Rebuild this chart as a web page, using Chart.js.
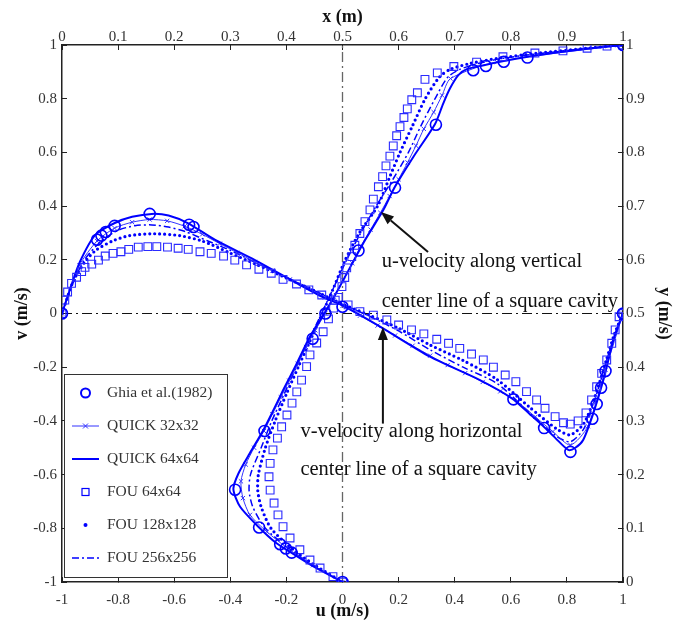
<!DOCTYPE html>
<html>
<head>
<meta charset="utf-8">
<script src="https://cdn.jsdelivr.net/npm/chart.js@4.4.0/dist/chart.umd.min.js"></script>
<style>
  html, body { margin: 0; padding: 0; background: #fff; }
  #chart-container { width: 674px; height: 625px; }
</style>
</head>
<body>
<div id="chart-container"><canvas id="chart1" width="674" height="625"></canvas></div>
<script>
// u-velocity along the vertical center line: y (m) -> u (m/s)
const ghiaUY = [0, 0.0547, 0.0625, 0.0703, 0.1016, 0.1719, 0.2813, 0.4531, 0.5, 0.6172, 0.7344, 0.8516, 0.9531, 0.9609, 0.9688, 0.9766, 1];
const ghiaU = [0, -0.18109, -0.20196, -0.2222, -0.2973, -0.38289, -0.27805, -0.10648, -0.0608, 0.05702, 0.18719, 0.33304, 0.46604, 0.51117, 0.57492, 0.65928, 1];

const uQuick32Y = [0, 0.03125, 0.0625, 0.09375, 0.125, 0.15625, 0.1875, 0.21875, 0.25, 0.28125, 0.3125, 0.34375, 0.375, 0.40625, 0.4375, 0.46875, 0.5, 0.53125, 0.5625, 0.59375, 0.625, 0.65625, 0.6875, 0.71875, 0.75, 0.78125, 0.8125, 0.84375, 0.875, 0.90625, 0.9375, 0.96875, 1];
const uQuick32 = [0, -0.105, -0.195, -0.27, -0.33, -0.355, -0.362, -0.345, -0.315, -0.28, -0.25, -0.22, -0.19, -0.16, -0.13, -0.097, -0.062, -0.03, 0.003, 0.035, 0.065, 0.1, 0.135, 0.168, 0.2, 0.232, 0.262, 0.29, 0.325, 0.355, 0.385, 0.55, 1];

const uQuick64Y = [0, 0.029, 0.056, 0.072, 0.103, 0.14, 0.173, 0.202, 0.24, 0.283, 0.314, 0.358, 0.407, 0.457, 0.5, 0.55, 0.631, 0.693, 0.736, 0.792, 0.853, 0.891, 0.919, 0.944, 0.955, 0.962, 0.97, 0.977, 0.985, 0.993, 1];
const uQuick64 = [0, -0.104, -0.187, -0.235, -0.3, -0.365, -0.389, -0.371, -0.33, -0.282, -0.252, -0.211, -0.163, -0.116, -0.065, -0.01, 0.074, 0.146, 0.187, 0.253, 0.33, 0.359, 0.383, 0.413, 0.443, 0.5, 0.575, 0.65, 0.75, 0.87, 1];

const uFou64Y = [0, 0.01, 0.026, 0.041, 0.06, 0.082, 0.103, 0.125, 0.147, 0.171, 0.196, 0.221, 0.246, 0.268, 0.289, 0.311, 0.333, 0.354, 0.376, 0.401, 0.423, 0.445, 0.466, 0.49, 0.51, 0.53, 0.55, 0.567, 0.585, 0.606, 0.627, 0.649, 0.671, 0.693, 0.713, 0.736, 0.755, 0.775, 0.793, 0.812, 0.831, 0.848, 0.865, 0.881, 0.898, 0.911, 0.936, 0.948, 0.96, 0.968, 0.978, 0.985, 0.989, 0.994, 0.998, 1];
const uFou64 = [0, -0.034, -0.08, -0.116, -0.152, -0.187, -0.212, -0.23, -0.244, -0.258, -0.262, -0.258, -0.248, -0.232, -0.217, -0.198, -0.18, -0.163, -0.146, -0.128, -0.116, -0.092, -0.069, -0.05, -0.032, -0.015, -0.002, 0.008, 0.015, 0.033, 0.044, 0.062, 0.08, 0.098, 0.11, 0.128, 0.143, 0.155, 0.169, 0.181, 0.193, 0.205, 0.219, 0.231, 0.247, 0.267, 0.294, 0.338, 0.397, 0.478, 0.572, 0.686, 0.786, 0.872, 0.943, 1];

const uFou128Y = [0, 0.03, 0.06, 0.1, 0.14, 0.17, 0.2, 0.25, 0.3, 0.35, 0.4, 0.45, 0.5, 0.55, 0.6, 0.65, 0.7, 0.75, 0.8, 0.85, 0.9, 0.94, 0.955, 0.965, 0.975, 0.985, 0.993, 1];
const uFou128 = [0, -0.095, -0.175, -0.255, -0.29, -0.302, -0.3, -0.275, -0.24, -0.2, -0.158, -0.115, -0.072, -0.03, 0.01, 0.06, 0.125, 0.165, 0.205, 0.25, 0.295, 0.345, 0.385, 0.45, 0.55, 0.7, 0.85, 1];

const uFou256Y = [0, 0.03, 0.06, 0.1, 0.14, 0.17, 0.2, 0.25, 0.3, 0.35, 0.4, 0.45, 0.5, 0.55, 0.6, 0.65, 0.7, 0.75, 0.8, 0.85, 0.9, 0.94, 0.955, 0.965, 0.975, 0.985, 0.993, 1];
const uFou256 = [0, -0.1, -0.185, -0.275, -0.32, -0.333, -0.328, -0.29, -0.252, -0.208, -0.165, -0.12, -0.075, -0.03, 0.015, 0.065, 0.12, 0.18, 0.235, 0.28, 0.33, 0.375, 0.42, 0.48, 0.57, 0.72, 0.86, 1];

// v-velocity along the horizontal center line: x (m) -> v (m/s)
const ghiaVX = [0, 0.0625, 0.0703, 0.0781, 0.0938, 0.1563, 0.2266, 0.2344, 0.5, 0.8047, 0.8594, 0.9063, 0.9453, 0.9531, 0.9609, 0.9688, 1];
const ghiaV = [0, 0.27485, 0.29012, 0.30353, 0.32627, 0.37095, 0.33075, 0.32235, 0.02526, -0.31966, -0.42665, -0.5155, -0.39188, -0.33714, -0.27669, -0.21388, 0];

const vQuick32X = [0, 0.03125, 0.0625, 0.09375, 0.125, 0.15625, 0.1875, 0.21875, 0.25, 0.28125, 0.3125, 0.34375, 0.375, 0.40625, 0.4375, 0.46875, 0.5, 0.53125, 0.5625, 0.59375, 0.625, 0.65625, 0.6875, 0.71875, 0.75, 0.78125, 0.8125, 0.84375, 0.875, 0.90625, 0.9375, 0.96875, 1];
const vQuick32 = [0, 0.18, 0.27, 0.318, 0.34, 0.35, 0.345, 0.325, 0.295, 0.26, 0.226, 0.192, 0.16, 0.127, 0.094, 0.06, 0.028, -0.008, -0.045, -0.082, -0.12, -0.157, -0.192, -0.222, -0.255, -0.29, -0.33, -0.385, -0.44, -0.49, -0.42, -0.21, 0];

const vQuick64X = [0, 0.015, 0.032, 0.059, 0.094, 0.125, 0.16, 0.19, 0.225, 0.273, 0.344, 0.403, 0.463, 0.5, 0.567, 0.656, 0.745, 0.802, 0.834, 0.858, 0.88, 0.9025, 0.915, 0.929, 0.947, 0.965, 0.983, 1];
const vQuick64 = [0, 0.095, 0.193, 0.292, 0.337, 0.36, 0.371, 0.365, 0.336, 0.274, 0.199, 0.131, 0.063, 0.03, -0.049, -0.161, -0.248, -0.316, -0.375, -0.42, -0.465, -0.508, -0.5, -0.471, -0.372, -0.248, -0.099, 0];

const vFou64X = [0, 0.005, 0.01, 0.017, 0.026, 0.035, 0.041, 0.053, 0.065, 0.077, 0.091, 0.105, 0.119, 0.136, 0.153, 0.169, 0.188, 0.207, 0.225, 0.246, 0.266, 0.288, 0.308, 0.329, 0.351, 0.373, 0.394, 0.418, 0.44, 0.463, 0.487, 0.51, 0.531, 0.555, 0.579, 0.6, 0.623, 0.645, 0.668, 0.689, 0.709, 0.73, 0.751, 0.769, 0.79, 0.809, 0.828, 0.846, 0.861, 0.879, 0.894, 0.906, 0.92, 0.934, 0.944, 0.953, 0.962, 0.971, 0.98, 0.986, 0.993, 1];
const vFou64 = [0, 0.05, 0.08, 0.112, 0.135, 0.156, 0.172, 0.184, 0.199, 0.214, 0.224, 0.23, 0.239, 0.247, 0.249, 0.249, 0.247, 0.243, 0.239, 0.23, 0.224, 0.214, 0.199, 0.181, 0.165, 0.15, 0.127, 0.11, 0.088, 0.069, 0.05, 0.032, 0.007, -0.006, -0.024, -0.043, -0.061, -0.076, -0.096, -0.111, -0.13, -0.151, -0.173, -0.2, -0.229, -0.254, -0.291, -0.322, -0.353, -0.384, -0.407, -0.412, -0.4, -0.37, -0.322, -0.273, -0.223, -0.173, -0.111, -0.061, -0.012, 0];

const vFou128X = [0, 0.02, 0.04, 0.06, 0.09, 0.12, 0.165, 0.21, 0.25, 0.3, 0.344, 0.4, 0.45, 0.5, 0.55, 0.6, 0.656, 0.715, 0.775, 0.834, 0.882, 0.906, 0.93, 0.95, 0.97, 0.985, 1];
const vFou128 = [0, 0.12, 0.19, 0.235, 0.27, 0.29, 0.297, 0.29, 0.27, 0.225, 0.185, 0.132, 0.085, 0.035, -0.008, -0.055, -0.117, -0.175, -0.245, -0.35, -0.43, -0.452, -0.41, -0.31, -0.175, -0.075, 0];

const vFou256X = [0, 0.02, 0.04, 0.07, 0.1, 0.13, 0.16, 0.19, 0.22, 0.26, 0.3, 0.35, 0.4, 0.45, 0.5, 0.55, 0.6, 0.656, 0.715, 0.775, 0.834, 0.88, 0.906, 0.93, 0.95, 0.97, 0.985, 1];
const vFou256 = [0, 0.115, 0.2, 0.27, 0.31, 0.327, 0.33, 0.322, 0.305, 0.27, 0.235, 0.185, 0.135, 0.085, 0.035, -0.012, -0.065, -0.135, -0.2, -0.26, -0.37, -0.455, -0.478, -0.43, -0.32, -0.18, -0.08, 0];

const legendLabels = ['Ghia et al.(1982)', 'QUICK 32x32', 'QUICK 64x64', 'FOU 64x64', 'FOU 128x128', 'FOU 256x256'];

const blue = '#0000ff';
const serif = "'Liberation Serif', 'Times New Roman', serif";

function pts(xs, ys) {
  return xs.map((v, i) => ({ x: v, y: ys[i] }));
}

// u curves use bottom (u) and right (y) axes, v curves use top (x) and left (v) axes
function uSet(label, u, y, style) {
  return Object.assign({ label, data: pts(u, y), xAxisID: 'x', yAxisID: 'y2' }, style);
}
function vSet(label, x, v, style) {
  return Object.assign({ label, data: pts(x, v), xAxisID: 'x2', yAxisID: 'y' }, style);
}

const ghiaStyle = { showLine: false, pointStyle: 'circle', pointRadius: 5.5, pointBorderWidth: 1.6, borderColor: blue, backgroundColor: 'rgba(0,0,0,0)' };
const q32Style = { showLine: true, tension: 0.25, borderColor: '#3333ff', borderWidth: 1, pointStyle: 'crossRot', pointRadius: 3, pointBorderWidth: 1, backgroundColor: '#3333ff' };
const q64Style = { showLine: true, tension: 0.25, borderColor: blue, borderWidth: 2, pointRadius: 0 };
const fou64Style = { showLine: false, pointStyle: 'rect', pointRadius: 5.5, pointBorderWidth: 1.1, borderColor: '#2a2aff', backgroundColor: 'rgba(0,0,0,0)' };
const fou128Style = { showLine: true, tension: 0.25, borderColor: blue, borderWidth: 3.2, borderDash: [0, 5], borderCapStyle: 'round', pointRadius: 0 };
const fou256Style = { showLine: true, tension: 0.25, borderColor: blue, borderWidth: 1.5, borderDash: [7, 3, 2, 3], pointRadius: 0 };

function drawArrow(ctx, x1, y1, x2, y2) {
  const a = Math.atan2(y2 - y1, x2 - x1);
  const head = 13, half = 5;
  const bx = x2 - head * Math.cos(a);
  const by = y2 - head * Math.sin(a);
  ctx.beginPath();
  ctx.moveTo(x1, y1);
  ctx.lineTo(bx, by);
  ctx.stroke();
  ctx.beginPath();
  ctx.moveTo(x2, y2);
  ctx.lineTo(bx + half * Math.sin(a), by - half * Math.cos(a));
  ctx.lineTo(bx - half * Math.sin(a), by + half * Math.cos(a));
  ctx.closePath();
  ctx.fill();
}

// text notes, arrows and the boxed legend inside the plot
const notesPlugin = {
  id: 'notes',
  afterDraw(chart) {
    const ctx = chart.ctx;
    const xs = chart.scales.x;
    const ys = chart.scales.y;
    const px = (u) => xs.getPixelForValue(u);
    const py = (v) => ys.getPixelForValue(v);
    ctx.save();
    ctx.fillStyle = '#111';
    ctx.strokeStyle = '#111';
    ctx.lineWidth = 2;
    ctx.font = '20.5px ' + serif;
    ctx.textBaseline = 'middle';
    ctx.textAlign = 'left';
    ctx.fillText('u-velocity along vertical', px(0.14), py(0.195));
    ctx.fillText('center line of a square cavity', px(0.14), py(0.045));
    ctx.fillText('v-velocity along horizontal', px(-0.15), py(-0.44));
    ctx.fillText('center line of a square cavity', px(-0.15), py(-0.583));
    drawArrow(ctx, px(0.305), py(0.229), px(0.137), py(0.378));
    drawArrow(ctx, px(0.144), py(-0.41), px(0.144), py(-0.05));

    // legend box
    const left = 64.5, top = 374.5, w = 163, h = 203;
    ctx.fillStyle = '#fff';
    ctx.fillRect(left, top, w, h);
    ctx.lineWidth = 1;
    ctx.strokeStyle = '#333';
    ctx.strokeRect(left, top, w, h);
    ctx.font = '15.5px ' + serif;
    const sx1 = 72, sx2 = 99, sc = 85.5;
    legendLabels.forEach((text, i) => {
      const y = 393 + i * 33;
      ctx.strokeStyle = blue;
      ctx.fillStyle = blue;
      ctx.setLineDash([]);
      ctx.lineCap = 'butt';
      if (i === 0) {
        ctx.lineWidth = 2;
        ctx.beginPath();
        ctx.arc(sc, y, 4.5, 0, Math.PI * 2);
        ctx.stroke();
      } else if (i === 1) {
        ctx.strokeStyle = '#3333ff';
        ctx.lineWidth = 1;
        ctx.beginPath();
        ctx.moveTo(sx1, y); ctx.lineTo(sx2, y);
        ctx.moveTo(sc - 2.5, y - 2.5); ctx.lineTo(sc + 2.5, y + 2.5);
        ctx.moveTo(sc - 2.5, y + 2.5); ctx.lineTo(sc + 2.5, y - 2.5);
        ctx.stroke();
      } else if (i === 2) {
        ctx.lineWidth = 2;
        ctx.beginPath();
        ctx.moveTo(sx1, y); ctx.lineTo(sx2, y);
        ctx.stroke();
      } else if (i === 3) {
        ctx.lineWidth = 1.2;
        ctx.strokeRect(sc - 3.5, y - 3.5, 7, 7);
      } else if (i === 4) {
        ctx.beginPath();
        ctx.arc(sc, y, 2, 0, Math.PI * 2);
        ctx.fill();
      } else {
        ctx.lineWidth = 1.5;
        ctx.setLineDash([7, 3, 2, 3]);
        ctx.beginPath();
        ctx.moveTo(sx1, y); ctx.lineTo(sx2, y);
        ctx.stroke();
        ctx.setLineDash([]);
      }
      ctx.fillStyle = '#333';
      ctx.fillText(text, 107, y);
    });
    ctx.restore();
  },
};

function axisOpts(pos, min, max, step, title, tickPad, titlePad, size) {
  const horizontal = pos === 'top' || pos === 'bottom';
  return {
    type: 'linear',
    position: pos,
    min,
    max,
    afterFit(scale) {
      if (horizontal) scale.height = size;
      else scale.width = size;
    },
    border: { display: true, color: '#222', width: 1.5 },
    grid: { drawOnChartArea: false, drawTicks: true, tickLength: -5, color: '#222', lineWidth: 1 },
    ticks: {
      stepSize: step,
      padding: tickPad,
      color: '#333',
      maxRotation: 0,
      autoSkip: false,
      font: { size: 15, family: serif },
      callback: (value) => String(Number(value.toFixed(1))),
    },
    title: {
      display: true,
      text: title,
      color: '#111',
      padding: titlePad,
      font: { size: 18, family: serif, weight: 'bold' },
    },
  };
}

function createChart() {
  const ctx = document.getElementById('chart1');
  new Chart(ctx, {
    type: 'scatter',
    data: {
      datasets: [
        uSet(legendLabels[0], ghiaU, ghiaUY, ghiaStyle),
        vSet(legendLabels[0], ghiaVX, ghiaV, ghiaStyle),
        uSet(legendLabels[3], uFou64, uFou64Y, fou64Style),
        vSet(legendLabels[3], vFou64X, vFou64, fou64Style),
        uSet(legendLabels[2], uQuick64, uQuick64Y, q64Style),
        vSet(legendLabels[2], vQuick64X, vQuick64, q64Style),
        uSet(legendLabels[1], uQuick32, uQuick32Y, q32Style),
        vSet(legendLabels[1], vQuick32X, vQuick32, q32Style),
        uSet(legendLabels[5], uFou256, uFou256Y, fou256Style),
        vSet(legendLabels[5], vFou256X, vFou256, fou256Style),
        uSet(legendLabels[4], uFou128, uFou128Y, fou128Style),
        vSet(legendLabels[4], vFou128X, vFou128, fou128Style),
        {
          label: 'u = 0',
          data: [{ x: 0, y: -1 }, { x: 0, y: 1 }],
          xAxisID: 'x', yAxisID: 'y',
          showLine: true, pointRadius: 0,
          borderColor: '#666', borderWidth: 1.3, borderDash: [10, 4, 2, 4],
        },
        {
          label: 'v = 0',
          data: [{ x: -1, y: 0 }, { x: 1, y: 0 }],
          xAxisID: 'x', yAxisID: 'y',
          showLine: true, pointRadius: 0,
          borderColor: '#111', borderWidth: 1.2, borderDash: [10, 4, 2, 4],
        },
      ],
    },
    options: {
      responsive: false,
      animation: false,
      devicePixelRatio: 1,
      layout: { padding: 0 },
      scales: {
        x: axisOpts('bottom', -1, 1, 0.2, 'u (m/s)', 14, { top: 0, bottom: 3 }, 43),
        x2: axisOpts('top', 0, 1, 0.1, 'x (m)', 4, { top: 7, bottom: 0 }, 45),
        y: axisOpts('left', -1, 1, 0.2, 'v (m/s)', 10, { top: 12, bottom: 0 }, 62),
        y2: axisOpts('right', 0, 1, 0.1, 'y (m/s)', 8, { top: 0, bottom: 0 }, 51),
      },
      plugins: {
        legend: { display: false },
        tooltip: { enabled: false },
      },
    },
    plugins: [notesPlugin],
  });
}

createChart();
</script>
</body>
</html>
